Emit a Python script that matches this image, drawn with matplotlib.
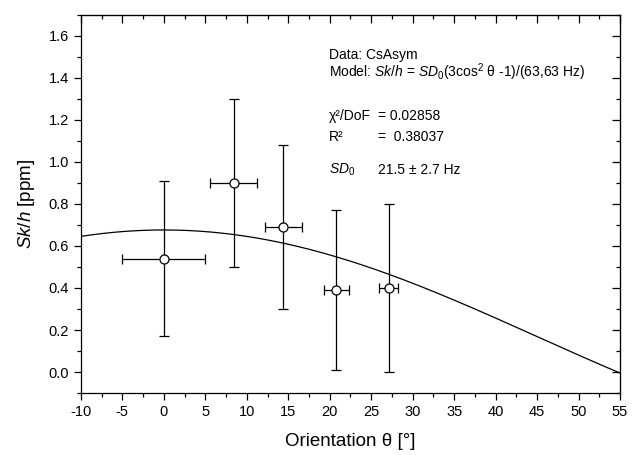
import numpy as np
import matplotlib
matplotlib.use("Agg")
import matplotlib.pyplot as plt
from matplotlib.ticker import MultipleLocator

plt.rcParams['font.family'] = ['Liberation Sans', 'DejaVu Sans']
plt.rcParams['mathtext.fontset'] = 'custom'
plt.rcParams['mathtext.rm'] = 'Liberation Sans'
plt.rcParams['mathtext.it'] = 'Liberation Sans:italic'
plt.rcParams['axes.unicode_minus'] = False

# measured data (orientation in degrees, Sk/h in ppm)
theta = [0.0, 8.4, 14.4, 20.8, 27.1]
theta_err = [5.0, 2.8, 2.2, 1.5, 1.1]
skh = [0.54, 0.90, 0.69, 0.39, 0.40]
skh_err = [0.37, 0.40, 0.39, 0.38, 0.40]

# fit parameters
sd0 = 21.5
scale = 63.63

fig = plt.figure(figsize=(6.32, 4.55), dpi=100)
ax = fig.add_axes([0.128, 0.136, 0.853, 0.832])

t = np.linspace(-10, 55, 300)
ax.plot(t, sd0 * (3 * np.cos(np.radians(t))**2 - 1) / scale, color='black', lw=0.9)

ax.errorbar(theta, skh, xerr=theta_err, yerr=skh_err, fmt='o', color='black',
            mfc='white', mec='black', ms=6.5, mew=0.9, elinewidth=0.9,
            capsize=3.3, capthick=0.9, zorder=3)

ax.set_xlim(-10, 55)
ax.set_ylim(-0.1, 1.7)
ax.xaxis.set_major_locator(MultipleLocator(5))
ax.xaxis.set_minor_locator(MultipleLocator(2.5))
ax.yaxis.set_major_locator(MultipleLocator(0.2))
ax.yaxis.set_minor_locator(MultipleLocator(0.1))
ax.set_yticks(np.arange(0, 1.61, 0.2))
ax.set_yticklabels([f"{v:.1f}" for v in np.arange(0, 1.61, 0.2)])
ax.tick_params(which='both', direction='out', labelsize=10.5, width=0.9,
               top=False, right=False)
ax.tick_params(which='major', length=5)
ax.tick_params(which='minor', length=3)
for s in ax.spines.values():
    s.set_linewidth(0.9)

# inward ticks on top and right
tx = ax.secondary_xaxis('top')
tx.xaxis.set_major_locator(MultipleLocator(5))
tx.xaxis.set_minor_locator(MultipleLocator(2.5))
tx.tick_params(which='both', direction='in', labeltop=False, width=0.9)
tx.tick_params(which='major', length=6)
tx.tick_params(which='minor', length=3)
ty = ax.secondary_yaxis('right')
ty.yaxis.set_major_locator(MultipleLocator(0.2))
ty.yaxis.set_minor_locator(MultipleLocator(0.1))
ty.tick_params(which='both', direction='in', labelright=False, width=0.9)
ty.tick_params(which='major', length=6)
ty.tick_params(which='minor', length=3)

ax.set_xlabel("Orientation θ [°]", fontsize=13.5, labelpad=10)
ax.set_ylabel(r"$\it{Sk/h}$ [ppm]", fontsize=13.5, labelpad=8)

tk = dict(transform=ax.transAxes, fontsize=10, va='center', ha='left')
ax.text(0.46, 0.894, "Data: CsAsym", **tk)
ax.text(0.46, 0.847, r"Model: $\it{Sk/h}$ = $\it{SD}_0$(3cos$^2$ θ -1)/(63,63 Hz)", **tk)
ax.text(0.46, 0.733, "χ²/DoF", **tk)
ax.text(0.552, 0.733, "= 0.02858", **tk)
ax.text(0.46, 0.677, "R²", **tk)
ax.text(0.552, 0.677, "=  0.38037", **tk)
ax.text(0.46, 0.590, r"$\it{SD}_0$", **tk)
ax.text(0.552, 0.590, "21.5 ± 2.7 Hz", **tk)

fig.savefig("out.png", dpi=100)
